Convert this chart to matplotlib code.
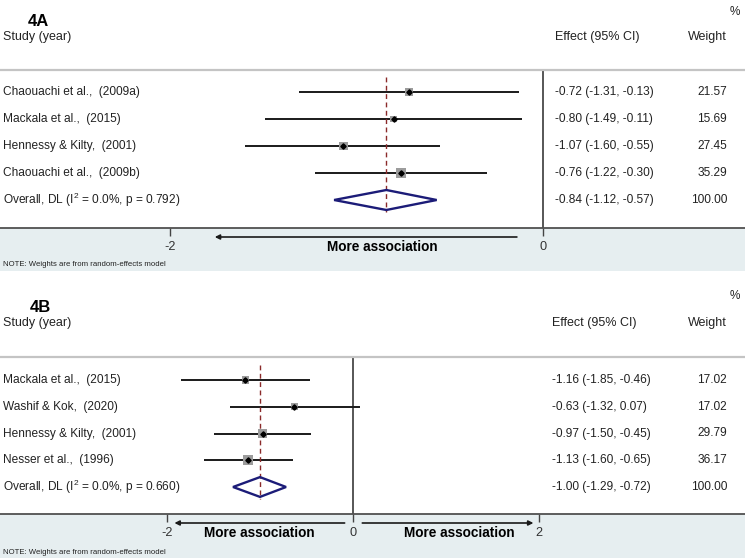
import numpy as np
import matplotlib
matplotlib.use("Agg")
import matplotlib.pyplot as plt
from matplotlib import transforms
from matplotlib.patches import Polygon, Rectangle

# ---------------- data ----------------
studies_a = ["Chaouachi et al.,  (2009a)", "Mackala et al.,  (2015)",
             "Hennessy & Kilty,  (2001)", "Chaouachi et al.,  (2009b)"]
effect_a = [-0.72, -0.80, -1.07, -0.76]
lower_a = [-1.31, -1.49, -1.60, -1.22]
upper_a = [-0.13, -0.11, -0.55, -0.30]
weight_a = [21.57, 15.69, 27.45, 35.29]
overall_a = [-0.84, -1.12, -0.57]
i2_a, p_a = "0.0%", "0.792"
ticks_a = [-2, 0]

studies_b = ["Mackala et al.,  (2015)", "Washif & Kok,  (2020)",
             "Hennessy & Kilty,  (2001)", "Nesser et al.,  (1996)"]
effect_b = [-1.16, -0.63, -0.97, -1.13]
lower_b = [-1.85, -1.32, -1.50, -1.60]
upper_b = [-0.46, 0.07, -0.45, -0.65]
weight_b = [17.02, 17.02, 29.79, 36.17]
overall_b = [-1.00, -1.29, -0.72]
i2_b, p_b = "0.0%", "0.660"
ticks_b = [-2, 0, 2]

# ---------------- style ----------------
plt.rcParams['font.family'] = ['Liberation Sans', 'DejaVu Sans']
plt.rcParams['mathtext.fontset'] = 'custom'
plt.rcParams['mathtext.rm'] = 'Liberation Sans'
NARROW = ['Liberation Sans Narrow', 'Liberation Sans', 'DejaVu Sans']
REG = ['Liberation Sans', 'DejaVu Sans']
TXT = '#222222'

W, H = 745, 558
fig = plt.figure(figsize=(W / 100, H / 100), dpi=100)
fig.patch.set_facecolor('white')

def fx(px):
    return px / W

def fy(py):
    return 1 - py / H

SHADE = '#e6eef0'

def panel(label, studies, eff, lo, hi, wt, overall, i2, p, ticks,
          top, row0, sp, bottom, shade_bot, zero_px, scale,
          arrows, assoc_x, hdr):
    ax = fig.add_axes([0, fy(bottom), 1, (bottom - top) / H])
    ax.set_xlim(-zero_px / scale, (W - zero_px) / scale)
    y_top = (top - row0) / sp
    y_bot = (bottom - row0) / sp
    ax.set_ylim(y_bot, y_top)
    ax.set_facecolor('white')
    for s in ['left', 'right']:
        ax.spines[s].set_visible(False)
    ax.spines['top'].set_color('#c4c4c4')
    ax.spines['top'].set_linewidth(1.6)
    ax.spines['bottom'].set_color('#505050')
    ax.spines['bottom'].set_linewidth(1.3)
    ax.set_yticks([])
    ax.set_xticks(ticks)
    ax.set_xticklabels([f"{t:g}" for t in ticks], family=NARROW, fontsize=9.2,
                       color='#333333')
    ax.tick_params(axis='x', direction='out', length=5.5, width=1.0,
                   color='#444444', pad=4)

    n = len(studies)
    rows = np.arange(n)
    ax.axvline(0, color='#3a3a3a', lw=1.2, zorder=1)
    ax.hlines(rows, lo, hi, color='#1a1a1a', lw=1.4, zorder=2)
    sides = 10.3 * np.sqrt(np.array(wt) / 36.0) * 0.72
    ax.scatter(eff, rows, marker='s', s=sides ** 2, color='#9c9c9c',
               linewidths=0, zorder=3)
    ax.plot(eff, rows, 'D', color='black', ms=2.7, zorder=4)
    ov, olo, ohi = overall
    ax.vlines(ov, -0.55, n + 0.45, color='#8b2a2a', lw=1.0,
              linestyles=(0, (3.5, 2.5)), zorder=2)
    dh = 0.37
    diamond = Polygon([(olo, n), (ov, n - dh), (ohi, n), (ov, n + dh)],
                      closed=True, fill=False, edgecolor='#1c1c78', lw=1.7,
                      zorder=4)
    ax.add_patch(diamond)

    tr = transforms.blended_transform_factory(fig.transFigure, ax.transData)
    labels = list(studies) + [
        f"Overall, DL (I$^{{2}}$ = {i2}, p = {p})"]
    efftxt = [f"{e:.2f} ({l:.2f}, {h:.2f})" for e, l, h in zip(eff, lo, hi)]
    efftxt.append(f"{ov:.2f} ({olo:.2f}, {ohi:.2f})")
    wtxt = [f"{w:.2f}" for w in wt] + ["100.00"]
    for i in range(n + 1):
        ax.text(fx(3), i, labels[i], transform=tr, va='center', ha='left',
                fontsize=8.6, family=REG, color=TXT)
        ax.text(fx(hdr['eff_x']), i, efftxt[i], transform=tr, va='center',
                ha='left', fontsize=8.6, family=REG, color=TXT)
        ax.text(fx(727), i, wtxt[i], transform=tr, va='center', ha='right',
                fontsize=8.6, family=REG, color=TXT)

    # header
    fig.text(fx(hdr['lab_x']), fy(hdr['lab_y']), label, ha='center',
             va='center', fontsize=12, fontweight='bold', family=NARROW)
    fig.text(fx(3), fy(hdr['col_y']), "Study (year)", ha='left', va='center',
             fontsize=9.0, family=NARROW, color=TXT)
    fig.text(fx(hdr['eff_x']), fy(hdr['col_y']), "Effect (95% CI)", ha='left',
             va='center', fontsize=9.0, family=NARROW, color=TXT)
    fig.text(fx(727), fy(hdr['col_y']), "Weight", ha='right', va='center',
             fontsize=9.0, family=NARROW, color=TXT)
    fig.text(fx(740), fy(hdr['pct_y']), "%", ha='right', va='center',
             fontsize=8.5, family=NARROW, color=TXT)

    # footer
    fig.patches.append(Rectangle((0, fy(shade_bot)), 1, (shade_bot - bottom) / H,
                                 transform=fig.transFigure, facecolor=SHADE,
                                 edgecolor='none', zorder=-1))
    xt = ax.get_xaxis_transform()
    ay = (bottom - hdr['arrow_y']) / (bottom - top)
    for tail, tip in arrows:
        ax.annotate('', xy=(tip, ay), xytext=(tail, ay), xycoords=xt,
                    textcoords=xt, annotation_clip=False,
                    arrowprops=dict(arrowstyle='-|>', color='#1a1a1a', lw=1.2,
                                    mutation_scale=7, shrinkA=0, shrinkB=0))
    ty = (bottom - hdr['assoc_y']) / (bottom - top)
    for xa in assoc_x:
        ax.text(xa, ty, "More association", transform=xt, ha='center',
                va='center', fontsize=9.8, fontweight='bold', family=NARROW)
    fig.text(fx(3), fy(hdr['note_y']), "NOTE: Weights are from random-effects model",
             ha='left', va='center', fontsize=5.6, family=REG, color=TXT)
    return ax


panel("4A", studies_a, effect_a, lower_a, upper_a, weight_a, overall_a, i2_a,
      p_a, ticks_a, top=70, row0=92, sp=27, bottom=228, shade_bot=271,
      zero_px=543, scale=186.5,
      arrows=[(-0.14, -1.76)], assoc_x=[-0.86],
      hdr=dict(lab_x=38, lab_y=21, col_y=37, pct_y=12, eff_x=555,
               arrow_y=237, assoc_y=247, note_y=264))

panel("4B", studies_b, effect_b, lower_b, upper_b, weight_b, overall_b, i2_b,
      p_b, ticks_b, top=357, row0=380, sp=26.75, bottom=514, shade_bot=558,
      zero_px=353, scale=93,
      arrows=[(-0.09, -1.92), (0.10, 1.94)], assoc_x=[-1.01, 1.14],
      hdr=dict(lab_x=40, lab_y=308, col_y=323, pct_y=296, eff_x=552,
               arrow_y=523, assoc_y=533, note_y=552))

fig.savefig("out.png", dpi=100, facecolor='white')
